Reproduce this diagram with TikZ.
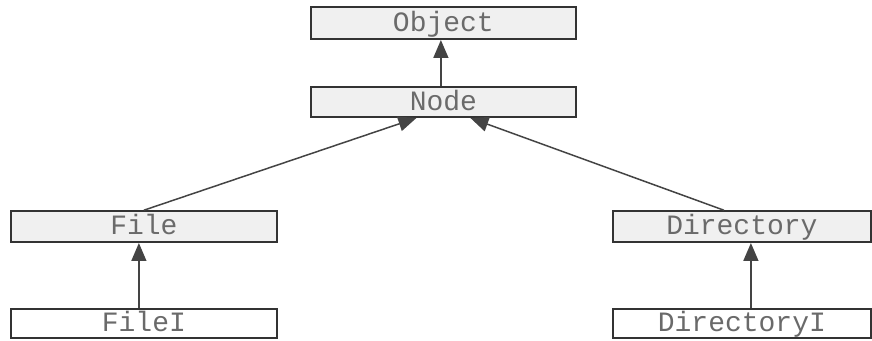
\documentclass[tikz,border=0pt]{standalone}
\usepackage{fontspec}
\setmonofont{Liberation Mono}
\usetikzlibrary{arrows.meta}
\definecolor{boxfill}{HTML}{F0F0F0}
\definecolor{txt}{HTML}{6A6A6A}
\definecolor{edge}{HTML}{333333}
\definecolor{arr}{HTML}{444444}
\tikzset{
  cls/.style={draw=edge, line width=1.8pt, fill=boxfill, inner sep=0pt,
    text height=16pt, text depth=0pt,
    anchor=south west, text=txt, font=\ttfamily\fontsize{28}{28}\selectfont},
  impl/.style={cls, fill=white},
  inh/.style={draw=arr, line width=1.5pt, -{Triangle[length=18pt,width=15pt]}}
}
\begin{document}
\begin{tikzpicture}[x=1pt,y=1pt]
\useasboundingbox (0,0) rectangle (872,340);
\node[cls, minimum width=265pt, minimum height=32pt] (object) at (310,300) {Object};
\node[cls, minimum width=265pt, minimum height=30pt] (node) at (310,222) {Node};
\node[cls, minimum width=266pt, minimum height=31pt] (file) at (10,97) {File};
\node[cls, minimum width=258pt, minimum height=31pt] (dir) at (612,97) {Directory};
\node[impl, minimum width=266pt, minimum height=29pt] (filei) at (10,1.5) {FileI};
\node[impl, minimum width=258pt, minimum height=29pt] (diri) at (612,1.5) {DirectoryI};
\draw[inh] ([xshift=-2.5pt]node.north) -- ([xshift=-2.5pt]object.south);
\draw[inh] (file.north) -- ([xshift=-27pt]node.south);
\draw[inh] ([xshift=-18pt]dir.north) -- ([xshift=27pt]node.south);
\draw[inh] ([xshift=-5pt]filei.north) -- ([xshift=-5pt]file.south);
\draw[inh] ([xshift=9pt]diri.north) -- ([xshift=9pt]dir.south);
\end{tikzpicture}
\end{document}
